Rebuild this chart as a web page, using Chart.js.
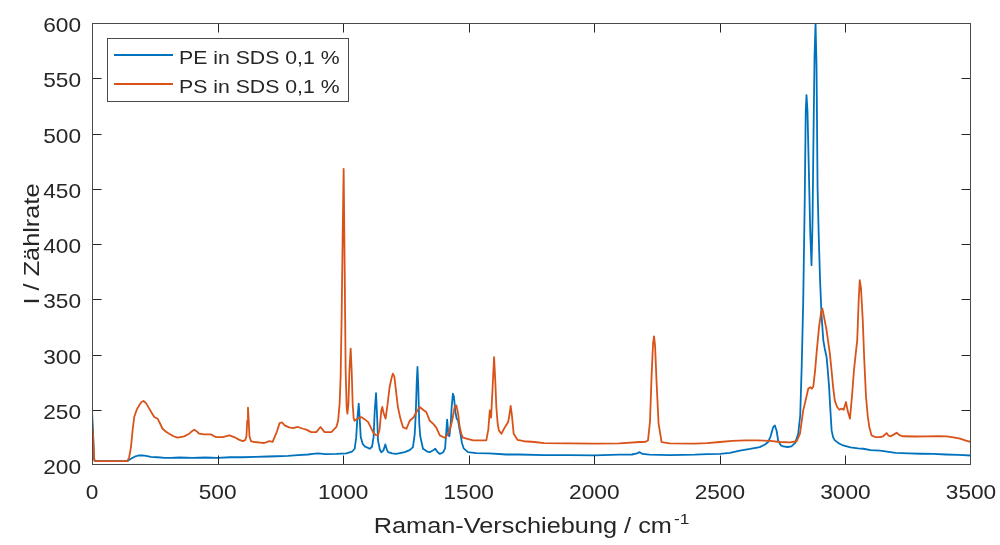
<!DOCTYPE html>
<html>
<head>
<meta charset="utf-8">
<script src="https://cdn.jsdelivr.net/npm/chart.js@4.4.1/dist/chart.umd.min.js"></script>
<style>
  html, body { margin: 0; padding: 0; background: #ffffff; }
  canvas { display: block; }
</style>
</head>
<body>
<canvas id="raman" width="1000" height="545"></canvas>
<script>
// Raman spectra of polymer particles dispersed in 0.1 % SDS solution
const seriesLabels = ['PE in SDS 0,1 %', 'PS in SDS 0,1 %'];

// Polyethylene: Raman shift (cm^-1) and count rate
const peShift = [
  0, 4, 8, 14, 60, 100, 140, 155, 170, 185, 200, 215, 234, 260, 290, 314, 350, 400, 450, 500,
  550, 600, 650, 700, 736, 780, 820, 860, 880, 900, 930, 973, 1013, 1035, 1046, 1052, 1056, 1062, 1066, 1070,
  1078, 1086, 1106, 1115, 1121, 1126, 1131, 1135, 1139, 1146, 1152, 1160, 1168, 1174, 1179, 1195, 1212, 1245, 1265, 1278,
  1285, 1289, 1293, 1296, 1299, 1303, 1307, 1318, 1335, 1345, 1360, 1367, 1375, 1385, 1398, 1406, 1410, 1414, 1419, 1423,
  1428, 1432, 1437, 1441, 1447, 1452, 1458, 1463, 1467, 1473, 1480, 1497, 1530, 1580, 1650, 1700, 1800, 1900, 2000, 2100,
  2150, 2170, 2181, 2192, 2220, 2300, 2400, 2450, 2500, 2540, 2580, 2620, 2659, 2680, 2692, 2702, 2712, 2719, 2726, 2732,
  2742, 2752, 2770, 2785, 2800, 2812, 2820, 2826, 2832, 2838, 2842, 2845, 2849, 2854, 2860, 2865, 2869, 2873, 2877, 2881,
  2885, 2889, 2894, 2899, 2905, 2912, 2918, 2925, 2930, 2935, 2940, 2945, 2951, 2958, 2975, 2991, 3020, 3050, 3071, 3100,
  3138, 3200, 3250, 3300, 3350, 3400, 3450, 3500
];
const peCounts = [
  249, 230, 205, 203.5, 203.5, 203.5, 203.5, 205.6, 207.5, 208.6, 208.8, 208.2, 207.3, 207, 206.5, 206.4, 206.8, 206.5, 206.8, 206.5,
  207, 207, 207.3, 207.7, 207.9, 208.3, 209, 209.5, 210, 210.5, 209.8, 210, 210.6, 212, 214.7, 225, 240, 255.5, 242, 225.3,
  219, 216.8, 214.7, 216.5, 225, 250, 265, 245, 222, 214, 211.6, 213, 218.6, 214, 211.6, 210.5, 210, 211.6, 213.5, 216.2,
  228, 245, 275, 288.7, 272, 238, 226, 214.7, 212.2, 211.6, 213.5, 214.7, 212, 210, 211.5, 215, 228, 241, 228, 226,
  236, 252, 264.5, 262, 248, 242, 240, 233, 228.3, 220, 215, 211.6, 210.8, 210.5, 209.5, 209.5, 209, 209, 208.8, 209.3,
  209.5, 210.5, 211.6, 210, 209.3, 209, 209.3, 209.8, 210, 211, 213, 214.5, 216.2, 218.5, 220.8, 226, 234, 235.8, 231, 222.3,
  218, 216.8, 216.3, 216.8, 220, 228.3, 245, 290, 349, 440, 520, 534.8, 520, 470, 410, 380.8, 420, 500, 570, 600,
  560, 451.7, 405, 367.2, 335, 312.8, 305, 297.7, 285, 270.5, 250, 231.3, 225, 222.3, 219.5, 217.7, 216, 215, 214.7, 213.5,
  213, 211, 210.5, 210.2, 210, 209.5, 209.2, 208.6
];

// Polystyrene: Raman shift (cm^-1) and count rate
const psShift = [
  0, 4, 9, 15, 60, 100, 141, 148, 155, 162, 168, 178, 188, 197, 205, 215, 228, 238, 248, 261,
  270, 281, 295, 307, 325, 341, 367, 385, 394, 407, 417, 427, 447, 473, 493, 520, 547, 566, 585, 600,
  610, 615, 618, 621, 624, 627, 633, 646, 670, 686, 706, 719, 727, 736, 747, 757, 767, 785, 800, 820,
  840, 853, 873, 893, 910, 926, 953, 973, 980, 986, 990, 994, 998, 1002, 1006, 1010, 1014, 1017,
  1021, 1025, 1030, 1034, 1038, 1042, 1046, 1058, 1072, 1085, 1099, 1110, 1119, 1130, 1139, 1145, 1152, 1156, 1161, 1169,
  1177, 1185, 1193, 1198, 1204, 1210, 1218, 1228, 1238, 1252, 1265, 1280, 1292, 1305, 1318, 1331, 1345, 1358, 1371, 1385,
  1404, 1415, 1424, 1434, 1444, 1451, 1458, 1464, 1471, 1477, 1491, 1518, 1550, 1570, 1578, 1584, 1589, 1594, 1601, 1606,
  1610, 1615, 1620, 1630, 1643, 1657, 1662, 1667, 1672, 1679, 1694, 1720, 1763, 1800, 1900, 2000, 2100, 2181, 2205, 2214,
  2222, 2228, 2234, 2238, 2242, 2248, 2256, 2268, 2300, 2400, 2450, 2500, 2550, 2600, 2650, 2700, 2739, 2780, 2806, 2819,
  2832, 2845, 2852, 2860, 2866, 2872, 2879, 2885, 2895, 2903, 2908, 2914, 2925, 2938, 2945, 2951, 2958, 2967, 2976, 2985,
  2993, 3002, 3009, 3018, 3026, 3034, 3043, 3047, 3053, 3057, 3062, 3069, 3075, 3082, 3089, 3095, 3104, 3118, 3138, 3150,
  3164, 3172, 3180, 3192, 3204, 3215, 3230, 3280, 3323, 3370, 3403, 3430, 3456, 3480, 3500
];
const psCounts = [
  240, 228, 204, 203.5, 203.5, 203.5, 203.5, 207, 216, 232, 243.4, 250, 254, 257, 257.9, 256, 251, 247, 243.4, 241.9,
  238, 232.8, 230, 228.3, 226, 224.7, 225.9, 228, 229.8, 232, 230.5, 228.3, 227.7, 227.7, 225.3, 225.3, 226.8, 225.3, 223, 221.6,
  222.5, 226, 240, 251.9, 240, 226, 221.5, 220.8, 220.3, 219.9, 221.6, 221, 225.3, 230, 237.9, 238.5, 235.8, 234, 233.4, 234.4,
  232.8, 232, 229.8, 229.8, 234.4, 229.8, 229.8, 234.4, 240, 255.5, 280, 334, 405, 468, 380, 285, 252, 246.4,
  255, 285, 305.4, 285, 255, 242, 240, 242, 243.4, 241.5, 239, 234, 229.8, 227, 226.8, 232, 249.4, 252.5, 247, 242,
  255, 270.6, 279, 282.6, 280, 268, 252.5, 242, 234.3, 232.8, 240, 243, 248, 252.5, 250, 248, 240, 237.4, 233.8, 226.8,
  224.7, 227, 231.3, 240, 252.5, 254, 246, 234.4, 228, 224.7, 223.8, 222.3, 222.3, 222.3, 232, 249.4, 242.8, 265, 297.7, 275,
  252.5, 238, 231.3, 228.3, 233.8, 238.9, 245, 253.4, 245, 228.3, 222.8, 221.5, 220.8, 219.8, 219.6, 219.3, 219.5, 220.8, 221, 222.3,
  240, 280, 310, 316.4, 308, 275, 237.4, 220.8, 219.5, 219.3, 219.8, 220.8, 221.8, 222.3, 222.3, 221.8, 220.8, 220.5, 221.5, 228.3,
  249.4, 262, 269, 270.5, 269, 271, 285, 301, 325, 338, 341.6, 335, 321.9, 300.8, 285, 270.5, 258, 252.5, 250, 251,
  250, 257, 249, 241.9, 262, 285.7, 305, 312.8, 350, 367.2, 360, 331, 295, 261.5, 244, 234.4, 226.8, 225.3, 225.3, 226,
  228.9, 226.5, 226, 227.5, 229.2, 227, 226, 225.8, 225.9, 226, 225.9, 225, 223.8, 222, 220.8
];

// Axis ticks
const xTickValues = [0, 500, 1000, 1500, 2000, 2500, 3000, 3500];
const yTickValues = [200, 250, 300, 350, 400, 450, 500, 550, 600];

const xTitle = 'Raman-Verschiebung / cm';
const xTitleExp = '-1';
const yTitle = 'I / Zählrate';

const PE_COLOR = '#0072BD';
const PS_COLOR = '#D95319';
const INK = '#262626';
const FONT_FAMILY = '"Liberation Sans", Arial, Helvetica, sans-serif';
const WIDE_TICK = 1.08;  // horizontal widening of tick-label glyphs
const WIDE_TITLE = 1.15; // horizontal widening of title glyphs

function toPoints(xs, ys) {
  return xs.map((x, i) => ({ x: x, y: ys[i] }));
}

// Draw text with a horizontal stretch; (x, y) is the alphabetic baseline anchor
function wideText(ctx, text, x, y, size, align, sx) {
  ctx.save();
  ctx.font = size + 'px ' + FONT_FAMILY;
  ctx.fillStyle = INK;
  ctx.textAlign = 'left';
  ctx.textBaseline = 'alphabetic';
  const w = ctx.measureText(text).width * sx;
  let x0 = x;
  if (align === 'center') x0 = x - w / 2;
  else if (align === 'right') x0 = x - w;
  ctx.translate(x0, y);
  ctx.scale(sx, 1);
  ctx.fillText(text, 0, 0);
  ctx.restore();
  return w;
}

function textWidth(ctx, text, size, sx) {
  ctx.save();
  ctx.font = size + 'px ' + FONT_FAMILY;
  const w = ctx.measureText(text).width * sx;
  ctx.restore();
  return w;
}

// Axes box, inward tick marks on all four sides, tick labels, titles and legend
const axesDecor = {
  id: 'axesDecor',
  afterDatasetsDraw(chart) {
    const { ctx, chartArea: a, scales } = chart;
    const L = Math.round(a.left) + 0.5, R = Math.round(a.right) - 0.5;
    const T = Math.round(a.top) + 0.5, B = Math.round(a.bottom) - 0.5;
    const tick = 9;
    ctx.save();
    ctx.strokeStyle = INK;
    ctx.lineWidth = 1;
    ctx.beginPath();
    scales.x.ticks.forEach(t => {
      const px = Math.round(scales.x.getPixelForValue(t.value)) + 0.5;
      if (px <= L + 1 || px >= R - 1) return;
      ctx.moveTo(px, B); ctx.lineTo(px, B - tick);
      ctx.moveTo(px, T); ctx.lineTo(px, T + tick);
    });
    scales.y.ticks.forEach(t => {
      const py = Math.round(scales.y.getPixelForValue(t.value)) + 0.5;
      if (py <= T + 1 || py >= B - 1) return;
      ctx.moveTo(L, py); ctx.lineTo(L + tick, py);
      ctx.moveTo(R, py); ctx.lineTo(R - tick, py);
    });
    ctx.stroke();
    ctx.strokeStyle = '#4a4a4a';
    ctx.strokeRect(L, T, R - L, B - T);
    ctx.restore();
  },
  afterDraw(chart) {
    const { ctx, chartArea: a, scales } = chart;
    const tickSize = 21;

    // tick labels
    scales.x.ticks.forEach(t => {
      const px = scales.x.getPixelForValue(t.value);
      wideText(ctx, String(t.value), px, 499, tickSize, 'center', WIDE_TICK);
    });
    scales.y.ticks.forEach(t => {
      const py = scales.y.getPixelForValue(t.value);
      wideText(ctx, String(t.value), 81, py + 9, tickSize, 'right', WIDE_TICK);
    });

    // x-axis title with superscript exponent
    const titleSize = 22, expSize = 15;
    const wMain = textWidth(ctx, xTitle, titleSize, WIDE_TITLE);
    const wExp = textWidth(ctx, xTitleExp, expSize, WIDE_TITLE);
    const cx = (a.left + a.right) / 2;
    const x0 = cx - (wMain + wExp + 2) / 2;
    wideText(ctx, xTitle, x0, 533, titleSize, 'left', WIDE_TITLE);
    wideText(ctx, xTitleExp, x0 + wMain + 2, 524, expSize, 'left', WIDE_TITLE);

    // y-axis title, rotated
    ctx.save();
    ctx.translate(39, (a.top + a.bottom) / 2);
    ctx.rotate(-Math.PI / 2);
    wideText(ctx, yTitle, 0, 0, titleSize, 'center', WIDE_TITLE);
    ctx.restore();

    // legend
    const box = { x: 107.5, y: 38.5, w: 241, h: 63 };
    ctx.save();
    ctx.fillStyle = '#ffffff';
    ctx.fillRect(box.x, box.y, box.w, box.h);
    ctx.strokeStyle = '#4a4a4a';
    ctx.lineWidth = 1;
    ctx.strokeRect(box.x, box.y, box.w, box.h);
    const rows = [55, 84];
    chart.data.datasets.forEach((ds, i) => {
      const y = rows[i];
      ctx.strokeStyle = ds.borderColor;
      ctx.lineWidth = 1.8;
      ctx.beginPath();
      ctx.moveTo(114, y);
      ctx.lineTo(173, y);
      ctx.stroke();
      wideText(ctx, ds.label, 179, y + 8.5, 18, 'left', 1.18);
    });
    ctx.restore();
  }
};

new Chart(document.getElementById('raman'), {
  type: 'line',
  data: {
    datasets: [
      {
        label: seriesLabels[0],
        data: toPoints(peShift, peCounts),
        borderColor: PE_COLOR,
        borderWidth: 1.8,
        borderJoinStyle: 'round',
        borderCapStyle: 'round',
        pointRadius: 0,
        tension: 0,
        order: 1
      },
      {
        label: seriesLabels[1],
        data: toPoints(psShift, psCounts),
        borderColor: PS_COLOR,
        borderWidth: 1.8,
        borderJoinStyle: 'round',
        borderCapStyle: 'round',
        pointRadius: 0,
        tension: 0,
        order: 0
      }
    ]
  },
  options: {
    responsive: false,
    animation: false,
    events: [],
    layout: { padding: { top: 23, right: 29, left: 0, bottom: 0 } },
    scales: {
      x: {
        type: 'linear',
        min: 0,
        max: 3500,
        afterBuildTicks(scale) { scale.ticks = xTickValues.map(v => ({ value: v })); },
        afterFit(scale) { scale.height = 80; },
        ticks: { display: false },
        grid: { display: false, drawTicks: false },
        border: { display: false }
      },
      y: {
        type: 'linear',
        min: 200,
        max: 600,
        afterBuildTicks(scale) { scale.ticks = yTickValues.map(v => ({ value: v })); },
        afterFit(scale) { scale.width = 92; },
        ticks: { display: false },
        grid: { display: false, drawTicks: false },
        border: { display: false }
      }
    },
    plugins: {
      legend: { display: false },
      tooltip: { enabled: false }
    }
  },
  plugins: [axesDecor]
});
</script>
</body>
</html>
